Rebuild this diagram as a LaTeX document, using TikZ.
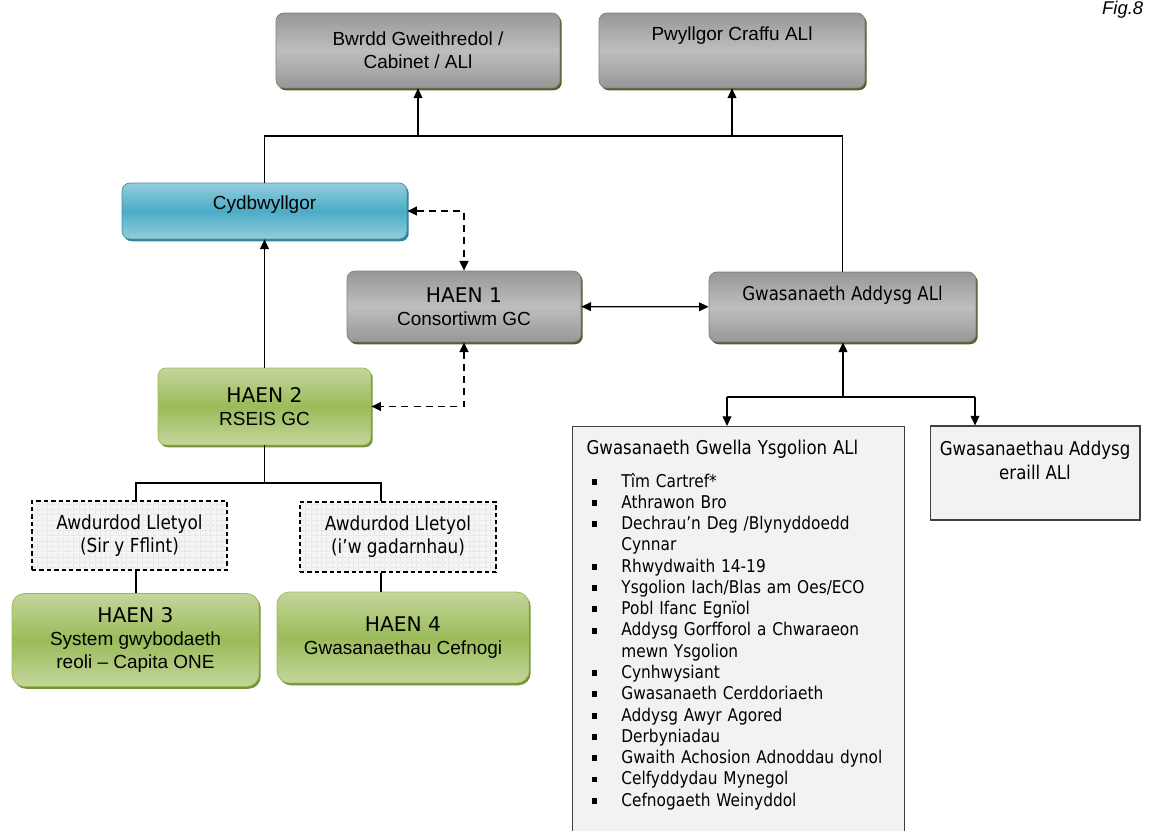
\documentclass[tikz,border=0pt]{standalone}
\usepackage{fontspec}
\setmainfont{Liberation Sans}
\newfontfamily\tahomafont{DejaVu Sans}[FakeStretch=0.875]
\newfontfamily\verdanafont{DejaVu Sans}
\usetikzlibrary{shapes,positioning,shadows,patterns,arrows.meta}

\definecolor{boxgrey}{HTML}{BEBEBE}
\definecolor{boxgreydark}{HTML}{979797}
\definecolor{edgeolive}{HTML}{4F6228}
\definecolor{cyanmid}{HTML}{4BACC6}
\definecolor{cyanlight}{HTML}{93CDDD}
\definecolor{cyanedge}{HTML}{31849B}
\definecolor{greenmid}{HTML}{9BBB59}
\definecolor{greenlight}{HTML}{C3D69B}
\definecolor{greenedge}{HTML}{76923C}
\definecolor{listfill}{HTML}{F2F2F2}

\newcommand{\haen}[1]{{\verdanafont\fontsize{11.5}{13.6}\selectfont HAEN #1}}
\newcommand{\bulitem}[1]{\mbox{\makebox[19.8pt][l]{\hspace{2.8pt}\rule[1.4pt]{3.3pt}{3.3pt}}#1}}
\newcommand{\contline}[1]{\mbox{\hspace*{19.8pt}#1}}

\begin{document}
\begin{tikzpicture}
            [
            x=0.02cm, y=-0.02cm,
            >={Triangle[length=5.5pt,width=5pt]},
            every node/.style={font=\fontsize{10.8}{13.2}\selectfont, align=center, inner sep=2pt},
            soft box/.style 2 args={rounded corners=4.5pt, draw=#1, line width=0.4pt,
                drop shadow={shadow xshift=1pt, shadow yshift=-1.3pt, opacity=1, fill=#2}},
            grey box/.style={soft box={gray}{edgeolive}, top color=boxgreydark,
                bottom color=boxgreydark, middle color=boxgrey},
            blue box/.style={soft box={cyanmid!85!black}{cyanedge}, top color=cyanlight,
                bottom color=cyanlight, middle color=cyanmid},
            green box/.style={soft box={greenmid}{greenedge}, top color=greenlight,
                bottom color=greenlight, middle color=greenmid},
            host box/.style={draw, line width=0.6pt, dash pattern=on 2.5pt off 1.7pt,
                preaction={fill=gray!8}, pattern=grid, pattern color=gray!18,
                font=\tahomafont\fontsize{11}{13}\selectfont},
            list box/.style={draw=black!75, fill=listfill, line width=0.6pt},
            link/.style={line width=0.7pt},
            dash link/.style={<->, line width=1pt, dash pattern=on 4pt off 3pt}
            ]
            \useasboundingbox (0,0) rectangle (1149,831);

            \node (bwrdd) [grey box, minimum width=5.68cm, minimum height=1.5cm] at (418,50.5)
                {Bwrdd Gweithredol /\\Cabinet / ALl};
            \node (pwyllgor) [grey box, minimum width=5.32cm, minimum height=1.5cm,
                text depth=19pt] at (732,50.5) {Pwyllgor Craffu ALl};
            \node (cyd) [blue box, minimum width=5.7cm, minimum height=1.12cm,
                text depth=9pt] at (264.5,211) {Cydbwyllgor};
            \node (haen1) [grey box, minimum width=4.68cm, minimum height=1.42cm] at (464,306.5)
                {\haen{1}\\Consortiwm GC};
            \node (ga) [grey box, minimum width=5.34cm, minimum height=1.4cm, text depth=16pt,
                font=\tahomafont\fontsize{10.8}{13}\selectfont] at (842.5,307)
                {Gwasanaeth Addysg ALl};
            \node (haen2) [green box, minimum width=4.26cm, minimum height=1.54cm] at (264.5,406.5)
                {\haen{2}\\RSEIS GC};

            % Awdurdodau lletyol
            \node (awd1) [host box, minimum width=3.9cm, minimum height=1.38cm] at (129.5,535.5)
                {Awdurdod Lletyol\\(Sir y Fflint)};
            \node (awd2) [host box, minimum width=3.92cm, minimum height=1.4cm] at (398,537)
                {Awdurdod Lletyol\\(i’w gadarnhau)};
            \node (haen3) [green box, rounded corners=7pt, minimum width=4.94cm,
                minimum height=1.86cm] at (135.5,640)
                {\haen{3}\\System gwybodaeth\\reoli – Capita ONE};
            \node (haen4) [green box, rounded corners=7pt, minimum width=5.04cm,
                minimum height=1.82cm] at (403,637.5)
                {\haen{4}\\Gwasanaethau Cefnogi};

            % Gwasanaethau ALl
            \node (gwella) [list box, anchor=north west, align=left, text width=172.8pt,
                inner xsep=8pt, inner ysep=7.6pt, text depth=218pt,
                font=\tahomafont\fontsize{10}{12.1}\selectfont] at (572,426)
                {{\fontsize{10.8}{13}\selectfont Gwasanaeth Gwella Ysgolion ALl}\\[6.6pt]
                 \bulitem{Tîm Cartref*}\\
                 \bulitem{Athrawon Bro}\\
                 \bulitem{Dechrau’n Deg /Blynyddoedd}\\
                 \contline{Cynnar}\\
                 \bulitem{Rhwydwaith 14-19}\\
                 \bulitem{Ysgolion Iach/Blas am Oes/ECO}\\
                 \bulitem{Pobl Ifanc Egnïol}\\
                 \bulitem{Addysg Gorfforol a Chwaraeon}\\
                 \contline{mewn Ysgolion}\\
                 \bulitem{Cynhwysiant}\\
                 \bulitem{Gwasanaeth Cerddoriaeth}\\
                 \bulitem{Addysg Awyr Agored}\\
                 \bulitem{Derbyniadau}\\
                 \bulitem{Gwaith Achosion Adnoddau dynol}\\
                 \bulitem{Celfyddydau Mynegol}\\
                 \bulitem{Cefnogaeth Weinyddol}};
            \node (eraill) [list box, minimum width=4.2cm, minimum height=1.88cm, text depth=14.8pt,
                font=\tahomafont\fontsize{10.8}{13.6}\selectfont] at (1035,473)
                {Gwasanaethau Addysg\\eraill ALl};

            \node (fig) [anchor=base east, font=\itshape\fontsize{10.5}{12}\selectfont]
                at (1147,15) {Fig.8};

            \coordinate (top) at (500,136);
            \coordinate (split) at (843,397);
            \coordinate (sl) at (727,397);
            \coordinate (sr) at (975,397);
            \coordinate (jl) at (136,483);
            \coordinate (jr) at (381,483);

            \draw [link] (cyd.north) |- (top) -| (ga.north);
            \foreach \n in {bwrdd,pwyllgor}
            \draw [link, ->] (\n.south |- top) -- (\n.south);
            \draw [link, ->] (haen2) -- (cyd);
            \draw [dash link] (cyd.east) -| (haen1.north);
            \draw [dash link] (haen1.south) |- (haen2.east);
            \draw [link, <->] (haen1) -- (ga);

            \draw [link, ->] (split) -- (split |- ga.south);
            \draw [link] (sl) -- (sr);
            \foreach \c/\n in {sl/gwella,sr/eraill}
            \draw [link, ->] (\c) -- (\c |- \n.north);

            \draw [link] (haen2.south) -- (haen2.south |- jl);
            \draw [link] (jl |- awd1.north) |- (jr) -- (jr |- awd2.north);
            \draw [link] (jl |- awd1.south) -- (jl |- haen3.north);
            \draw [link] (jr |- awd2.south) -- (jr |- haen4.north);
        \end{tikzpicture}
\end{document}
